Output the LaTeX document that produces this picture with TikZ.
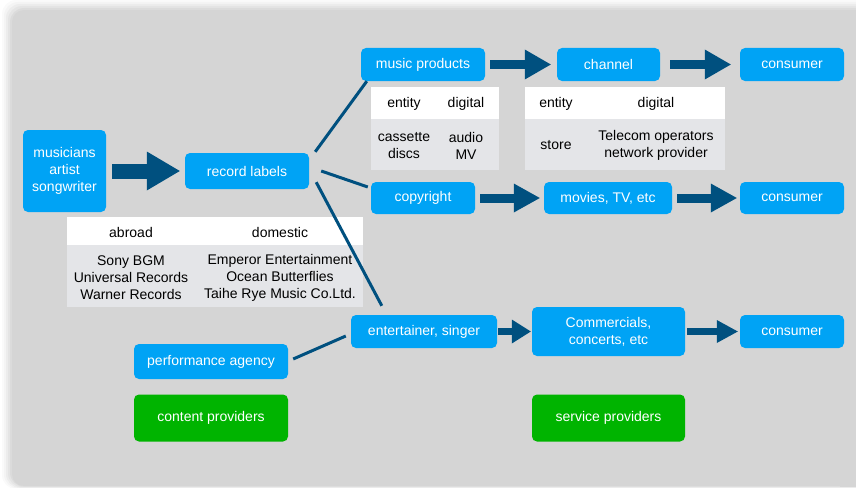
\documentclass[tikz,border=0pt]{standalone}
\usepackage{fontspec}
\setmainfont{Liberation Sans}
\usetikzlibrary{arrows.meta,calc}
\definecolor{panel}{HTML}{D5D5D5}
\definecolor{boxblue}{HTML}{00A3F5}
\definecolor{boxgreen}{HTML}{00B400}
\definecolor{arrowc}{HTML}{00507F}
\definecolor{tbody}{HTML}{E4E5E8}
\tikzset{
  bx/.style={draw=none, fill=boxblue, rounded corners=5pt, text=white, align=center,
    inner sep=0pt, font=\fontsize{14}{17}\selectfont},
  gbx/.style={bx, fill=boxgreen},
  tx/.style={inner sep=0pt, align=center, text=black, font=\fontsize{14}{17}\selectfont},
  blk/.style n args={3}{draw=arrowc, line width=#1,
    -{Triangle[length=#2, width=#3, line width=0pt]}},
  conn/.style={draw=arrowc, line width=3pt},
}
\begin{document}
\begin{tikzpicture}[x=1pt,y=-1pt]
\useasboundingbox (0,0) rectangle (856,487);
% shadow and panel
\foreach \s/\o in {10/0.02,8/0.025,6/0.03,4/0.035,2/0.04}{
  \fill[black, opacity=\o, rounded corners=14pt] (12-\s,10-\s) rectangle (870,486+\s*0.3);
}
\fill[panel, rounded corners=12pt] (12,10) rectangle (870,486);
\fill[panel] (840,470) rectangle (856,487);

% tables
\node[fill=white, minimum width=128pt, minimum height=32pt, inner sep=0pt] (t1h) at (435,103) {};
\node[fill=tbody, minimum width=128pt, minimum height=51pt, inner sep=0pt] (t1b) at (435,144.5) {};
\node[tx] (t1a) at (404,104) {entity};
\node[tx] (t1c) at (466,104) {digital};
\node[tx] (t1d) at (404,145.5) {cassette\\discs};
\node[tx] (t1e) at (466,145.5) {audio\\MV};

\node[fill=white, minimum width=200pt, minimum height=32pt, inner sep=0pt] (t2h) at (625,103) {};
\node[fill=tbody, minimum width=200pt, minimum height=51pt, inner sep=0pt] (t2b) at (625,144.5) {};
\node[tx] (t2a) at (556,104) {entity};
\node[tx] (t2c) at (656,104) {digital};
\node[tx] (t2d) at (556,145.5) {store};
\node[tx] (t2e) at (656,145.5) {Telecom operators\\network provider};

\node[fill=white, minimum width=296pt, minimum height=28pt, inner sep=0pt] (t3h) at (215,231) {};
\node[fill=tbody, minimum width=296pt, minimum height=62pt, inner sep=0pt] (t3b) at (215,276) {};
\node[tx] (t3a) at (131,232.5) {abroad};
\node[tx] (t3c) at (280,232.5) {domestic};
\node[tx] (t3d) at (131,277.5) {Sony BGM\\Universal Records\\Warner Records};
\node[tx] (t3e) at (280,277.5) {Emperor Entertainment\\Ocean Butterflies\\Taihe Rye Music Co.Ltd.};

% boxes
\tikzset{every node/.append style={}}
\node[bx, minimum width=83pt, minimum height=82pt] (mus) at (64.5,171) {musicians\\artist\\songwriter};
\node[bx, minimum width=124pt, minimum height=36pt] (rec) at (247,171) {\raisebox{-1pt}{record labels}};
\node[bx, minimum width=124pt, minimum height=33pt] (mp) at (423,64.5) {\raisebox{-1.5pt}{music products}};
\node[bx, minimum width=103pt, minimum height=33pt] (ch) at (608.5,64.5) {\raisebox{-1.5pt}{channel}};
\node[bx, minimum width=104pt, minimum height=33pt] (con1) at (792,64.5) {\raisebox{-1.5pt}{consumer}};
\node[bx, minimum width=104pt, minimum height=32pt] (cr) at (423,198) {\raisebox{-1.5pt}{copyright}};
\node[bx, minimum width=128pt, minimum height=32pt] (mov) at (608,198) {\raisebox{-1.5pt}{movies, TV, etc}};
\node[bx, minimum width=104pt, minimum height=32pt] (con2) at (792,198) {\raisebox{-1.5pt}{consumer}};
\node[bx, minimum width=146pt, minimum height=33pt] (ent) at (424,331.5) {\raisebox{-1pt}{entertainer, singer}};
\node[bx, minimum width=153pt, minimum height=49pt] (com) at (608.5,331.5) {Commercials,\\concerts, etc};
\node[bx, minimum width=104pt, minimum height=33pt] (con3) at (792,331.5) {\raisebox{-1.5pt}{consumer}};
\node[bx, minimum width=154pt, minimum height=35pt] (perf) at (211,361.5) {\raisebox{-1pt}{performance agency}};
\node[gbx, minimum width=154pt, minimum height=47pt] (cp) at (211,418) {\raisebox{-1pt}{content providers}};
\node[gbx, minimum width=153pt, minimum height=47pt] (sp) at (608.5,418) {\raisebox{-1pt}{service providers}};

% block arrows
\draw[blk={15pt}{33pt}{39pt}, shorten <=6pt, shorten >=5pt] (mus.east) -- (rec.west);
\draw[blk={9pt}{26pt}{30pt}, shorten <=5pt, shorten >=6pt] (mp.east) -- (ch.west);
\draw[blk={9pt}{26pt}{30pt}, shorten <=10pt, shorten >=9pt] (ch.east) -- (con1.west);
\draw[blk={9pt}{26pt}{29pt}, shorten <=5pt, shorten >=4pt] (cr.east) -- (mov.west);
\draw[blk={9pt}{26pt}{29pt}, shorten <=5pt, shorten >=3pt] (mov.east) -- (con2.west);
\draw[blk={7pt}{19pt}{24pt}, shorten <=1pt, shorten >=1pt] (ent.east) -- (com.west);
\draw[blk={7pt}{21pt}{23pt}, shorten <=2pt, shorten >=2pt] (com.east) -- (con3.west);

% connectors
\draw[conn] ([shift={(6,-1)}]rec.north east) -- ([shift={(6,0)}]mp.south west);
\draw[conn] ([shift={(12,0)}]rec.east) -- ([shift={(-3,-11)}]cr.west);
\draw[conn] ([shift={(7,-7)}]rec.south east) -- ([shift={(31,-9)}]ent.north west);
\draw[conn] ([shift={(5,-2.5)}]perf.east) -- ([shift={(-5,4.5)}]ent.west);
\end{tikzpicture}
\end{document}
